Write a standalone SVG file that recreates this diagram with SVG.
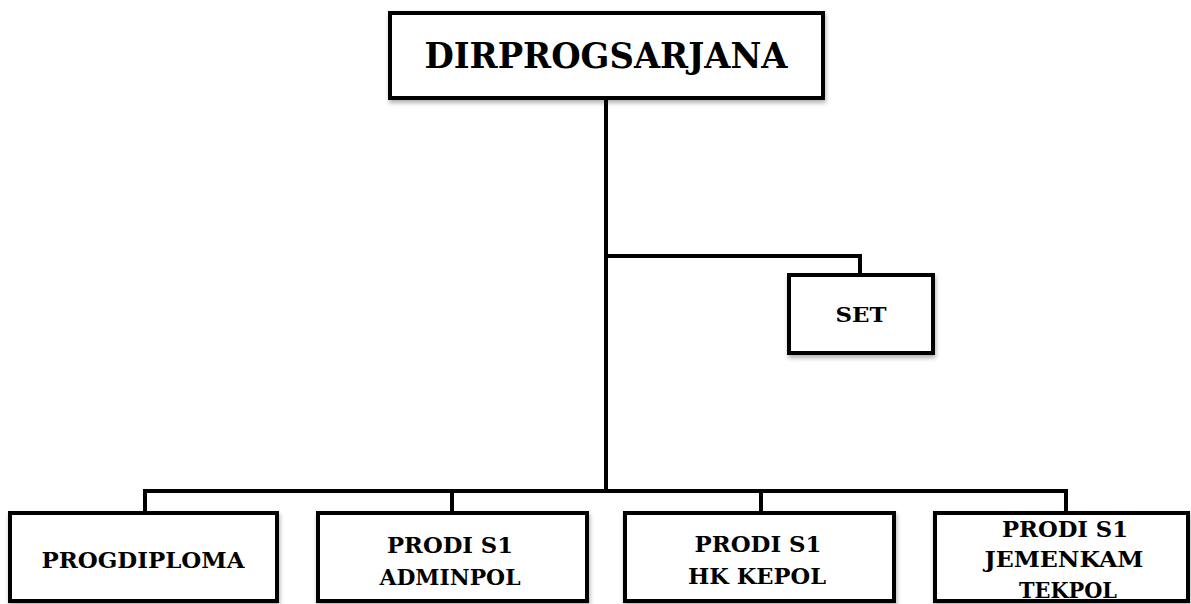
<svg xmlns="http://www.w3.org/2000/svg" width="1191" height="604" viewBox="0 0 1191 604">
<style>
.box{fill:#fff;stroke:#000;stroke-width:4;filter:url(#sh)}
.t{font-family:"DejaVu Serif","Liberation Serif",serif;font-weight:bold;fill:#000;text-anchor:middle}
.c{fill:none;stroke:#000;stroke-width:4}
</style>
<defs>
<filter id="sh" x="-10%" y="-10%" width="120%" height="130%">
<feDropShadow dx="1" dy="3" stdDeviation="2" flood-color="#000" flood-opacity="0.3"/>
</filter>
</defs>
<rect width="1191" height="604" fill="#fff"/>
<g id="connectors">
<path class="c" d="M606 98V491"/>
<path class="c" d="M606 256H860V275"/>
<path class="c" d="M145 513V491H1066V513"/>
<path class="c" d="M452 491V513"/>
<path class="c" d="M761 491V513"/>
</g>
<g id="dirprogsarjana">
<rect class="box" x="390" y="13" width="433" height="85"/>
<text class="t" x="606" y="68" font-size="35" textLength="363" lengthAdjust="spacingAndGlyphs">DIRPROGSARJANA</text>
</g>
<g id="set">
<rect class="box" x="789" y="275" width="144" height="78"/>
<text class="t" x="861" y="322" font-size="21" textLength="51" lengthAdjust="spacingAndGlyphs">SET</text>
</g>
<g id="progdiploma">
<rect class="box" x="10" y="513" width="267" height="88"/>
<text class="t" x="143" y="568" font-size="23" textLength="203" lengthAdjust="spacingAndGlyphs">PROGDIPLOMA</text>
</g>
<g id="adminpol">
<rect class="box" x="318" y="513" width="269" height="88"/>
<text class="t" x="450" y="553" font-size="23" textLength="126" lengthAdjust="spacingAndGlyphs">PRODI S1</text>
<text class="t" x="450" y="585" font-size="23" textLength="141" lengthAdjust="spacingAndGlyphs">ADMINPOL</text>
</g>
<g id="hkkepol">
<rect class="box" x="625" y="513" width="269" height="88"/>
<text class="t" x="758" y="552" font-size="23" textLength="127" lengthAdjust="spacingAndGlyphs">PRODI S1</text>
<text class="t" x="757" y="584" font-size="23" textLength="138" lengthAdjust="spacingAndGlyphs">HK KEPOL</text>
</g>
<g id="jemenkam">
<rect class="box" x="935" y="513" width="253" height="88"/>
<text class="t" x="1065" y="537" font-size="23" textLength="126" lengthAdjust="spacingAndGlyphs">PRODI S1</text>
<text class="t" x="1064" y="567" font-size="23" textLength="159" lengthAdjust="spacingAndGlyphs">JEMENKAM</text>
<text class="t" x="1068" y="598" font-size="23" textLength="98" lengthAdjust="spacingAndGlyphs">TEKPOL</text>
</g>
</svg>
